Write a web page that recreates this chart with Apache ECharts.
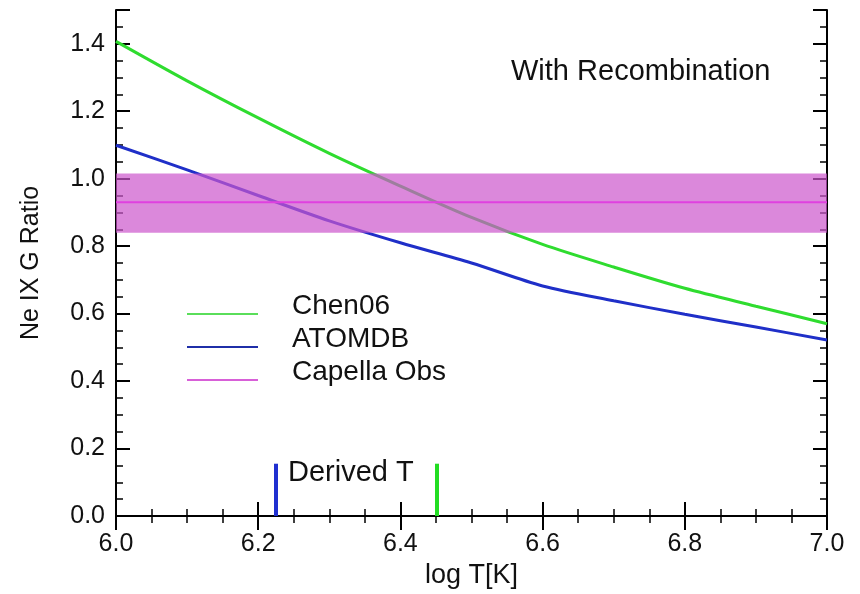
<!DOCTYPE html>
<html>
<head>
<meta charset="utf-8">
<script src="https://cdn.jsdelivr.net/npm/echarts@6/dist/echarts.min.js"></script>
<style>
  html, body { margin: 0; padding: 0; background: #fff; }
  #g_ratio { width: 860px; height: 594px; }
</style>
</head>
<body>
<div id="g_ratio"></div>
<script>
// log T grid
var logT = [6.0, 6.1, 6.2, 6.3, 6.4, 6.5, 6.6, 6.7, 6.8, 6.9, 7.0];
// G ratio curves
var chen06 = [1.407, 1.29, 1.18, 1.075, 0.978, 0.885, 0.805, 0.738, 0.675, 0.622, 0.57];
var atomdb = [1.099, 1.026, 0.95, 0.875, 0.81, 0.75, 0.682, 0.638, 0.598, 0.56, 0.522];
// Capella observed ratio and its band
var capellaObs = 0.93;
var capellaLow = 0.84;
var capellaHigh = 1.015;
// derived temperatures (ATOMDB, Chen06) and the marker height
var derivedT = [6.224, 6.451];
var derivedH = 0.155;

var chartDom = document.getElementById('g_ratio');
var g_echarts = echarts.init(chartDom);

function pairs(ys) {
  return logT.map(function (x, i) { return [x, ys[i]]; });
}

function vbar(x) {
  return [[{ coord: [x, 0] }, { coord: [x, derivedH] }]];
}

var font = 'Liberation Sans';
var axisCommon = {
  type: 'value',
  interval: 0.2,
  axisLine: { show: true, lineStyle: { color: '#000', width: 2 } },
  axisTick: { show: true, inside: true, length: 14, lineStyle: { color: '#000', width: 2 } },
  minorTick: { show: true, splitNumber: 4, length: 7, lineStyle: { color: '#000', width: 1.5 } },
  splitLine: { show: false }
};

var g_option = {
  animation: false,
  textStyle: { fontFamily: font },
  title: {
    text: 'With Recombination',
    left: 506,
    top: 52,
    textStyle: { fontFamily: font, fontSize: 29, fontWeight: 'normal', color: '#111' }
  },
  legend: {
    orient: 'vertical',
    left: 187,
    top: 292,
    padding: 0,
    icon: 'rect',
    itemWidth: 71,
    itemHeight: 2,
    itemGap: 5,
    data: ['Chen06', 'ATOMDB', 'Capella Obs'],
    formatter: '{t|{name}}',
    textStyle: {
      fontFamily: font, fontSize: 28, color: '#111',
      rich: { t: { fontFamily: font, fontSize: 28, color: '#111', padding: [0, 0, 16, 29] } }
    }
  },
  graphic: [
    {
      type: 'text',
      left: 288,
      top: 458,
      style: { text: 'Derived T', font: '29px "Liberation Sans"', fill: '#111' }
    }
  ],
  grid: { left: 116, right: 33, top: 10, bottom: 78, outerBoundsMode: 'none' },
  xAxis: [
    Object.assign({}, axisCommon, {
      min: 6.0, max: 7.0,
      position: 'bottom',
      name: 'log T[K]',
      nameLocation: 'middle',
      nameGap: 43,
      nameTextStyle: { fontFamily: font, fontSize: 27, color: '#111' },
      axisLabel: {
        margin: 16, fontSize: 25, color: '#111', fontFamily: font,
        formatter: function (v) { return v.toFixed(1); }
      }
    }),
    Object.assign({}, axisCommon, {
      min: 6.0, max: 7.0,
      position: 'top',
      axisLabel: { show: false }
    })
  ],
  yAxis: [
    Object.assign({}, axisCommon, {
      min: 0, max: 1.5,
      position: 'left',
      name: 'Ne IX G Ratio',
      nameLocation: 'middle',
      nameGap: 72,
      nameTextStyle: { fontFamily: font, fontSize: 25, color: '#111' },
      axisLabel: {
        margin: 11, fontSize: 25, color: '#111', fontFamily: font,
        formatter: function (v) { return v > 1.45 ? '' : v.toFixed(1); }
      }
    }),
    Object.assign({}, axisCommon, {
      min: 0, max: 1.5,
      position: 'right',
      axisLabel: { show: false }
    })
  ],
  series: [
    {
      name: 'Chen06',
      type: 'line',
      data: pairs(chen06),
      smooth: 0.3,
      symbol: 'none',
      z: 2,
      color: '#5ade5a',
      lineStyle: { width: 3, color: '#2fdc2f' },
      markLine: {
        silent: true,
        symbol: 'none',
        label: { show: false },
        lineStyle: { type: 'solid', width: 4, color: '#22dd22' },
        data: vbar(derivedT[1])
      }
    },
    {
      name: 'ATOMDB',
      type: 'line',
      data: pairs(atomdb),
      smooth: 0.3,
      symbol: 'none',
      z: 2,
      color: '#1f2fa8',
      lineStyle: { width: 3, color: '#1f2fc8' },
      markLine: {
        silent: true,
        symbol: 'none',
        label: { show: false },
        lineStyle: { type: 'solid', width: 4, color: '#1f2fd0' },
        data: vbar(derivedT[0])
      }
    },
    {
      name: 'Capella Obs',
      type: 'line',
      data: [[logT[0], capellaObs], [logT[logT.length - 1], capellaObs]],
      symbol: 'none',
      z: 6,
      color: '#d860d8',
      lineStyle: { width: 2, color: '#e040e0' },
      markArea: {
        silent: true,
        z: 5,
        itemStyle: { color: '#cc55cc', opacity: 0.7 },
        data: [[{ yAxis: capellaLow }, { yAxis: capellaHigh }]]
      }
    }
  ]
};

g_option && g_echarts.setOption(g_option);
</script>
</body>
</html>
